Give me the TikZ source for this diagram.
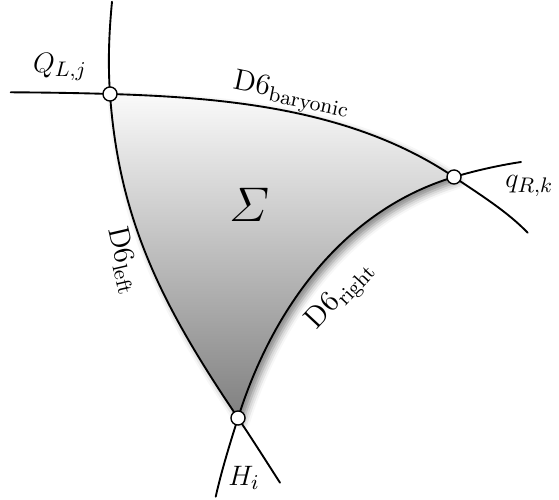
\documentclass[tikz,border=0pt]{standalone}
\usepackage{amsmath}
\usepackage{tikz}
\usetikzlibrary{shadows.blur}

\begin{document}
\begin{tikzpicture}[
  x=0.015cm, y=-0.015cm,
  brane/.style={thick, line cap=round},
  vertex/.style={circle, draw, fill=white, line width=0.6pt, inner sep=0pt,
                 minimum size=6pt},
  lab/.style={font=\fontsize{12.6}{15}\selectfont},
  surface/.style={top color=black!2, bottom color=black!50,
                  blur shadow={shadow xshift=2pt, shadow yshift=-2pt,
                               shadow blur radius=3pt, shadow opacity=50}},
]
\useasboundingbox (0,0) rectangle (559,499);

% Vertices and free ends
\coordinate (QL) at (110,94);
\coordinate (qR) at (454,177);
\coordinate (H)  at (238,418);
\coordinate (baryW)  at (10.7,92.3);
\coordinate (baryE)  at (527.6,232.7);
\coordinate (leftN)  at (112,1.7);
\coordinate (leftS)  at (280,482.7);
\coordinate (rightE) at (521,162);
\coordinate (rightS) at (215.7,496.7);

% Disc
\shade[surface] (QL) .. controls (230,97.6) and (355,110) .. (qR)
  .. controls (343.8,210) and (272.5,308.3) .. (H)
  .. controls (165.2,310.1) and (119.1,224) .. cycle;

% D6 branes
\draw[brane] (baryW) .. controls (45,92.5) and (77,93) .. (QL)
  .. controls (230,97.6) and (355,110) .. (qR)
  .. controls (479,194) and (507.6,211.7) .. (baryE);
\draw[brane] (leftN) .. controls (109,32.7) and (107.8,63) .. (QL)
  .. controls (119.1,224) and (165.2,310.1) .. (H)
  .. controls (251.5,438) and (267.5,463.3) .. (leftS);
\draw[brane] (rightE) .. controls (499,165.3) and (475.1,170.7) .. (qR)
  .. controls (343.8,210) and (272.5,308.3) .. (H)
  .. controls (229.8,444) and (221.6,470.4) .. (rightS);

% Labels
\node[lab] (QLlab) at (60,67) {$Q_{L,j}$};
\node[lab, rotate=-12] (barylab) at (292,95) {D6$_{\mathrm{baryonic}}$};
\node[lab, anchor=west] (qRlab) at (497,186) {$q_{R,k}$};
\node[font=\fontsize{22}{26}\selectfont] (sigma) at (250,205) {$\varSigma$};
\node[lab, rotate=-77] (leftlab) at (124,261) {D6$_{\mathrm{left}}$};
\node[lab, rotate=47] (rightlab) at (341,296) {D6$_{\mathrm{right}}$};
\node[lab] (Hlab) at (244,478) {$H_i$};

% Intersection points
\foreach \v in {QL,qR,H} \node[vertex] (\v dot) at (\v) {};
\end{tikzpicture}
\end{document}
